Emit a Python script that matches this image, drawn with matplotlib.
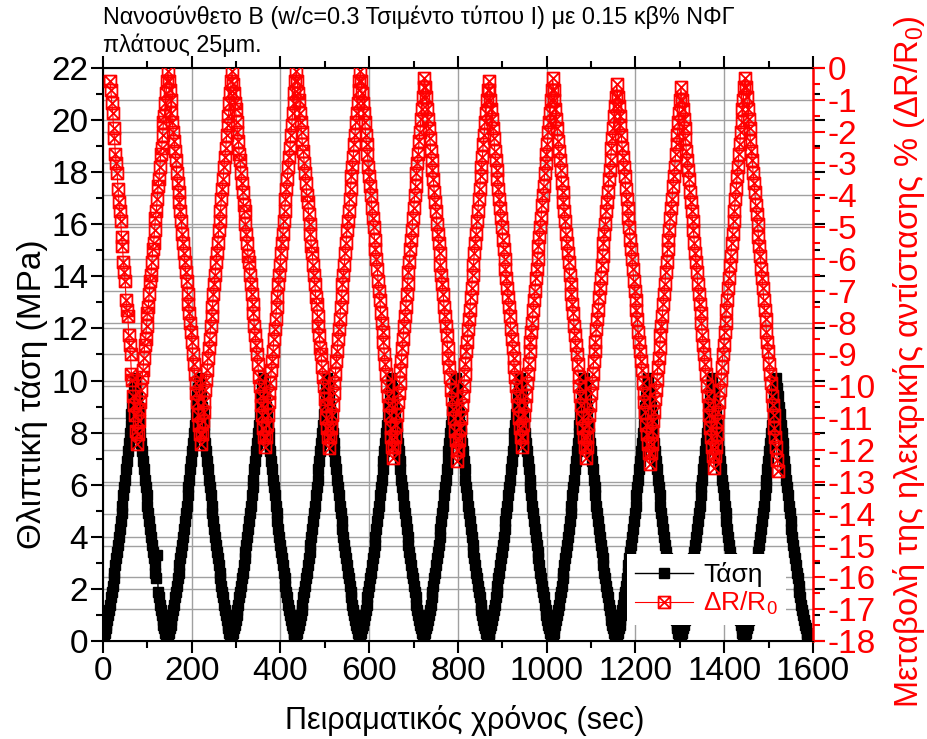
import numpy as np
import matplotlib
matplotlib.use("Agg")
import matplotlib.pyplot as plt
from matplotlib.path import Path
from matplotlib.lines import Line2D
from matplotlib.ticker import MultipleLocator
from matplotlib.transforms import blended_transform_factory

# Διάστημα δειγματοληψίας (sec), 72 δείγματα ανά κύκλο φόρτισης
dt = 2.007

# Τάση (MPa) ανά κύκλο, όπως διαβάζεται από το γράφημα
stress_cycles = [
    [0.0, 0.2, 0.3, 0.5, 0.6, 0.8, 1.0, 1.2, 1.4, 1.7, 1.9, 2.1, 2.4, 2.6, 2.9, 3.2, 3.4, 3.7, 4.0, 4.3, 4.6, 4.9, 5.2, 5.6, 5.9, 6.2, 6.6, 6.9, 7.3, 7.6, 8.0, 8.3, 8.7, 9.0, 9.4, 9.7, 10.1,
     9.7, 9.4, 9.0, 8.7, 8.3, 8.0, 7.6, 7.3, 6.9, 6.6, 6.2, 5.9, 5.6, 5.2, 4.9, 4.6, 4.3, 4.0, 3.7, 3.4, 3.2, 2.9, 2.6, 2.4, 3.3, 1.9, 1.7, 1.4, 1.2, 1.0, 0.8, 0.6, 0.5, 0.3, 0.2],
    [0.0, 0.2, 0.3, 0.5, 0.6, 0.8, 1.0, 1.2, 1.4, 1.7, 1.9, 2.1, 2.4, 2.6, 2.9, 3.2, 3.4, 3.7, 4.0, 4.3, 4.6, 4.9, 5.2, 5.6, 5.9, 6.2, 6.6, 6.9, 7.3, 7.6, 8.0, 8.3, 8.7, 9.0, 9.4, 9.7, 10.1,
     9.7, 9.4, 9.0, 8.7, 8.3, 8.0, 7.6, 7.3, 6.9, 6.6, 6.2, 5.9, 5.6, 5.2, 4.9, 4.6, 4.3, 4.0, 3.7, 3.4, 3.2, 2.9, 2.6, 2.4, 2.1, 1.9, 1.7, 1.4, 1.2, 1.0, 0.8, 0.6, 0.5, 0.3, 0.2],
    [0.0, 0.2, 0.3, 0.5, 0.6, 0.8, 1.0, 1.2, 1.4, 1.7, 1.9, 2.1, 2.4, 2.6, 2.9, 3.2, 3.4, 3.7, 4.0, 4.3, 4.6, 4.9, 5.2, 5.6, 5.9, 6.2, 6.6, 6.9, 7.3, 7.6, 8.0, 8.3, 8.7, 9.0, 9.4, 9.7, 10.1,
     9.7, 9.4, 9.0, 8.7, 8.3, 8.0, 7.6, 7.3, 6.9, 6.6, 6.2, 5.9, 5.6, 5.2, 4.9, 4.6, 4.3, 4.0, 3.7, 3.4, 3.2, 2.9, 2.6, 2.4, 2.1, 1.9, 1.7, 1.4, 1.2, 1.0, 0.8, 0.6, 0.5, 0.3, 0.2],
    [0.0, 0.2, 0.3, 0.5, 0.6, 0.8, 1.0, 1.2, 1.4, 1.7, 1.9, 2.1, 2.4, 2.6, 2.9, 3.2, 3.4, 3.7, 4.0, 4.3, 4.6, 4.9, 5.2, 5.6, 5.9, 6.2, 6.6, 6.9, 7.3, 7.6, 8.0, 8.3, 8.7, 9.0, 9.4, 9.7, 10.1,
     9.7, 9.4, 9.0, 8.7, 8.3, 8.0, 7.6, 7.3, 6.9, 6.6, 6.2, 5.9, 5.6, 5.2, 4.9, 4.6, 4.3, 4.0, 3.7, 3.4, 3.2, 2.9, 2.6, 2.4, 2.1, 1.9, 1.7, 1.4, 1.2, 1.0, 0.8, 0.6, 0.5, 0.3, 0.2],
    [0.0, 0.2, 0.3, 0.5, 0.6, 0.8, 1.0, 1.2, 1.4, 1.7, 1.9, 2.1, 2.4, 2.6, 2.9, 3.2, 3.4, 3.7, 4.0, 4.3, 4.6, 4.9, 5.2, 5.6, 5.9, 6.2, 6.6, 6.9, 7.3, 7.6, 8.0, 8.3, 8.7, 9.0, 9.4, 9.7, 10.1,
     9.7, 9.4, 9.0, 8.7, 8.3, 8.0, 7.6, 7.3, 6.9, 6.6, 6.2, 5.9, 5.6, 5.2, 4.9, 4.6, 4.3, 4.0, 3.7, 3.4, 3.2, 2.9, 2.6, 2.4, 2.1, 1.9, 1.7, 1.4, 1.2, 1.0, 0.8, 0.6, 0.5, 0.3, 0.2],
    [0.0, 0.2, 0.3, 0.5, 0.6, 0.8, 1.0, 1.2, 1.4, 1.7, 1.9, 2.1, 2.4, 2.6, 2.9, 3.2, 3.4, 3.7, 4.0, 4.3, 4.6, 4.9, 5.2, 5.6, 5.9, 6.2, 6.6, 6.9, 7.3, 7.6, 8.0, 8.3, 8.7, 9.0, 9.4, 9.7, 10.1,
     9.7, 9.4, 9.0, 8.7, 8.3, 8.0, 7.6, 7.3, 6.9, 6.6, 6.2, 5.9, 5.6, 5.2, 4.9, 4.6, 4.3, 4.0, 3.7, 3.4, 3.2, 2.9, 2.6, 2.4, 2.1, 1.9, 1.7, 1.4, 1.2, 1.0, 0.8, 0.6, 0.5, 0.3, 0.2],
    [0.0, 0.2, 0.3, 0.5, 0.6, 0.8, 1.0, 1.2, 1.4, 1.7, 1.9, 2.1, 2.4, 2.6, 2.9, 3.2, 3.4, 3.7, 4.0, 4.3, 4.6, 4.9, 5.2, 5.6, 5.9, 6.2, 6.6, 6.9, 7.3, 7.6, 8.0, 8.3, 8.7, 9.0, 9.4, 9.7, 10.1,
     9.7, 9.4, 9.0, 8.7, 8.3, 8.0, 7.6, 7.3, 6.9, 6.6, 6.2, 5.9, 5.6, 5.2, 4.9, 4.6, 4.3, 4.0, 3.7, 3.4, 3.2, 2.9, 2.6, 2.4, 2.1, 1.9, 1.7, 1.4, 1.2, 1.0, 0.8, 0.6, 0.5, 0.3, 0.2],
    [0.0, 0.2, 0.3, 0.5, 0.6, 0.8, 1.0, 1.2, 1.4, 1.7, 1.9, 2.1, 2.4, 2.6, 2.9, 3.2, 3.4, 3.7, 4.0, 4.3, 4.6, 4.9, 5.2, 5.6, 5.9, 6.2, 6.6, 6.9, 7.3, 7.6, 8.0, 8.3, 8.7, 9.0, 9.4, 9.7, 10.1,
     9.7, 9.4, 9.0, 8.7, 8.3, 8.0, 7.6, 7.3, 6.9, 6.6, 6.2, 5.9, 5.6, 5.2, 4.9, 4.6, 4.3, 4.0, 3.7, 3.4, 3.2, 2.9, 2.6, 2.4, 2.1, 1.9, 1.7, 1.4, 1.2, 1.0, 0.8, 0.6, 0.5, 0.3, 0.2],
    [0.0, 0.2, 0.3, 0.5, 0.6, 0.8, 1.0, 1.2, 1.4, 1.7, 1.9, 2.1, 2.4, 2.6, 2.9, 3.2, 3.4, 3.7, 4.0, 4.3, 4.6, 4.9, 5.2, 5.6, 5.9, 6.2, 6.6, 6.9, 7.3, 7.6, 8.0, 8.3, 8.7, 9.0, 9.4, 9.7, 10.1,
     9.7, 9.4, 9.0, 8.7, 8.3, 8.0, 7.6, 7.3, 6.9, 6.6, 6.2, 5.9, 5.6, 5.2, 4.9, 4.6, 4.3, 4.0, 3.7, 3.4, 3.2, 2.9, 2.6, 2.4, 2.1, 1.9, 1.7, 1.4, 1.2, 1.0, 0.8, 0.6, 0.5, 0.3, 0.2],
    [0.0, 0.2, 0.3, 0.5, 0.6, 0.8, 1.0, 1.2, 1.4, 1.7, 1.9, 2.1, 2.4, 2.6, 2.9, 3.2, 3.4, 3.7, 4.0, 4.3, 4.6, 4.9, 5.2, 5.6, 5.9, 6.2, 6.6, 6.9, 7.3, 7.6, 8.0, 8.3, 8.7, 9.0, 9.4, 9.7, 10.1,
     9.7, 9.4, 9.0, 8.7, 8.3, 8.0, 7.6, 7.3, 6.9, 6.6, 6.2, 5.9, 5.6, 5.2, 4.9, 4.6, 4.3, 4.0, 3.7, 3.4, 3.2, 2.9, 2.6, 2.4, 2.1, 1.9, 1.7, 1.4, 1.2, 1.0, 0.8, 0.6, 0.5, 0.3, 0.2],
    [0.0, 0.2, 0.3, 0.5, 0.6, 0.8, 1.0, 1.2, 1.4, 1.7, 1.9, 2.1, 2.4, 2.6, 2.9, 3.2, 3.4, 3.7, 4.0, 4.3, 4.6, 4.9, 5.2, 5.6, 5.9, 6.2, 6.6, 6.9, 7.3, 7.6, 8.0, 8.3, 8.7, 9.0, 9.4, 9.7, 10.1,
     9.7, 9.4, 9.0, 8.7, 8.3, 8.0, 7.6, 7.3, 6.9, 6.6, 6.2, 5.9, 5.6, 5.2, 4.9, 4.6, 4.3, 4.0, 3.7, 3.4, 3.2, 2.9, 2.6, 2.4, 2.1, 1.9, 1.7, 1.4, 1.2, 1.0, 0.8, 0.6, 0.5, 0.3, 0.2, 0.0],
]

# ΔR/R0 (%) ανά κύκλο· η μέτρηση ξεκινά στο 8ο δείγμα
red_start = 8
dr_cycles = [
    [-0.4, -0.7, -1.1, -1.4, -1.9, -2.2, -2.7, -3.0, -3.3, -3.8, -4.2, -4.5, -4.8, -5.3, -5.6, -6.1, -6.4, -6.7, -7.3, -7.6, -7.8, -8.4, -8.7, -9.0, -9.6, -9.8, -10.3, -10.6, -10.9, -11.4, -11.8,
     -11.5, -11.1, -10.7, -10.5, -10.1, -9.7, -9.5, -9.1, -8.7, -8.5, -8.1, -7.7, -7.5, -7.1, -6.7, -6.5, -6.1, -5.7, -5.5, -5.1, -4.7, -4.5, -4.1, -3.7, -3.5, -3.1, -2.7, -2.5, -2.1, -1.7, -1.5, -1.1, -0.8, -0.4],
    [-0.1, -0.4, -0.7, -1.0, -1.4, -1.7, -2.0, -2.3, -2.6, -2.9, -3.3, -3.6, -3.9, -4.2, -4.5, -4.8, -5.2, -5.5, -5.8, -6.1, -6.4, -6.7, -7.1, -7.4, -7.7, -8.0, -8.3, -8.6, -9.0, -9.3, -9.6, -9.9, -10.2, -10.5, -10.9, -11.2, -11.5, -11.8,
     -11.5, -11.1, -10.8, -10.5, -10.1, -9.8, -9.5, -9.1, -8.8, -8.5, -8.1, -7.8, -7.5, -7.1, -6.8, -6.5, -6.1, -5.8, -5.5, -5.1, -4.8, -4.5, -4.1, -3.8, -3.5, -3.1, -2.8, -2.5, -2.1, -1.8, -1.5, -1.1, -0.8, -0.4],
    [-0.1, -0.5, -0.8, -1.1, -1.3, -1.7, -2.0, -2.3, -2.7, -2.9, -3.3, -3.6, -3.9, -4.3, -4.5, -4.9, -5.2, -5.5, -5.9, -6.1, -6.5, -6.8, -7.1, -7.4, -7.7, -8.1, -8.4, -8.7, -9.0, -9.3, -9.7, -10.0, -10.3, -10.6, -10.9, -11.3, -11.6, -11.9,
     -11.6, -11.2, -10.9, -10.5, -10.2, -9.9, -9.5, -9.2, -8.9, -8.5, -8.2, -7.9, -7.5, -7.2, -6.8, -6.5, -6.2, -5.8, -5.5, -5.2, -4.8, -4.5, -4.1, -3.8, -3.5, -3.1, -2.8, -2.5, -2.1, -1.8, -1.4, -1.1, -0.8, -0.4],
    [-0.1, -0.4, -0.8, -1.0, -1.4, -1.7, -2.0, -2.4, -2.6, -3.0, -3.3, -3.6, -4.0, -4.2, -4.6, -4.9, -5.2, -5.6, -5.8, -6.2, -6.5, -6.8, -7.2, -7.4, -7.8, -8.1, -8.4, -8.8, -9.0, -9.4, -9.7, -10.0, -10.4, -10.6, -11.0, -11.3, -11.6, -11.95,
     -11.6, -11.3, -10.9, -10.6, -10.2, -9.9, -9.6, -9.2, -8.9, -8.5, -8.2, -7.9, -7.5, -7.2, -6.8, -6.5, -6.2, -5.8, -5.5, -5.1, -4.8, -4.5, -4.1, -3.8, -3.4, -3.1, -2.8, -2.4, -2.1, -1.7, -1.4, -1.1, -0.7, -0.4],
    [-0.1, -0.4, -0.8, -1.1, -1.4, -1.7, -2.1, -2.4, -2.7, -3.1, -3.4, -3.7, -4.0, -4.4, -4.7, -5.0, -5.4, -5.7, -6.0, -6.3, -6.7, -7.0, -7.3, -7.7, -8.0, -8.3, -8.6, -9.0, -9.3, -9.6, -10.0, -10.3, -10.6, -10.9, -11.3, -11.6, -11.9, -12.25,
     -11.9, -11.6, -11.2, -10.9, -10.5, -10.2, -9.9, -9.5, -9.2, -8.8, -8.5, -8.1, -7.8, -7.5, -7.1, -6.8, -6.4, -6.1, -5.7, -5.4, -5.1, -4.7, -4.4, -4.0, -3.7, -3.3, -3.0, -2.7, -2.3, -2.0, -1.6, -1.3, -0.9, -0.6],
    [-0.3, -0.6, -0.9, -1.3, -1.6, -1.9, -2.2, -2.6, -2.9, -3.2, -3.5, -3.9, -4.2, -4.5, -4.9, -5.2, -5.5, -5.8, -6.2, -6.5, -6.8, -7.1, -7.5, -7.8, -8.1, -8.4, -8.8, -9.1, -9.4, -9.7, -10.1, -10.4, -10.7, -11.0, -11.4, -11.7, -12.0, -12.35,
     -12.0, -11.7, -11.3, -11.0, -10.6, -10.3, -10.0, -9.6, -9.3, -8.9, -8.6, -8.2, -7.9, -7.6, -7.2, -6.9, -6.5, -6.2, -5.8, -5.5, -5.2, -4.8, -4.5, -4.1, -3.8, -3.4, -3.1, -2.8, -2.4, -2.1, -1.7, -1.4, -1.0, -0.7],
    [-0.4, -0.7, -1.0, -1.3, -1.6, -1.9, -2.2, -2.6, -2.9, -3.2, -3.5, -3.8, -4.1, -4.4, -4.7, -5.0, -5.4, -5.7, -6.0, -6.3, -6.6, -6.9, -7.2, -7.5, -7.8, -8.2, -8.5, -8.8, -9.1, -9.4, -9.7, -10.0, -10.3, -10.6, -11.0, -11.3, -11.6, -11.9,
     -11.6, -11.2, -10.9, -10.6, -10.3, -9.9, -9.6, -9.3, -8.9, -8.6, -8.3, -8.0, -7.6, -7.3, -7.0, -6.6, -6.3, -6.0, -5.6, -5.3, -5.0, -4.7, -4.3, -4.0, -3.7, -3.3, -3.0, -2.7, -2.4, -2.0, -1.7, -1.4, -1.0, -0.7],
    [-0.3, -0.7, -1.0, -1.3, -1.6, -1.9, -2.3, -2.6, -2.9, -3.2, -3.6, -3.9, -4.2, -4.5, -4.8, -5.2, -5.5, -5.8, -6.1, -6.5, -6.8, -7.1, -7.4, -7.7, -8.1, -8.4, -8.7, -9.0, -9.3, -9.7, -10.0, -10.3, -10.6, -11.0, -11.3, -11.6, -11.9, -12.25,
     -11.9, -11.6, -11.2, -10.9, -10.6, -10.2, -9.9, -9.6, -9.2, -8.9, -8.6, -8.2, -7.9, -7.6, -7.2, -6.9, -6.6, -6.2, -5.9, -5.5, -5.2, -4.9, -4.5, -4.2, -3.9, -3.5, -3.2, -2.9, -2.5, -2.2, -1.9, -1.5, -1.2, -0.9],
    [-0.5, -0.9, -1.2, -1.5, -1.8, -2.1, -2.5, -2.8, -3.1, -3.4, -3.8, -4.1, -4.4, -4.7, -5.0, -5.4, -5.7, -6.0, -6.3, -6.7, -7.0, -7.3, -7.6, -7.9, -8.3, -8.6, -8.9, -9.2, -9.5, -9.9, -10.2, -10.5, -10.8, -11.2, -11.5, -11.8, -12.1, -12.45,
     -12.1, -11.8, -11.4, -11.1, -10.8, -10.4, -10.1, -9.8, -9.4, -9.1, -8.8, -8.4, -8.1, -7.8, -7.4, -7.1, -6.8, -6.4, -6.1, -5.7, -5.4, -5.1, -4.7, -4.4, -4.1, -3.7, -3.4, -3.1, -2.7, -2.4, -2.1, -1.7, -1.4, -1.0],
    [-0.6, -1.0, -1.3, -1.6, -1.9, -2.2, -2.6, -2.9, -3.2, -3.5, -3.9, -4.2, -4.5, -4.8, -5.1, -5.5, -5.8, -6.1, -6.4, -6.8, -7.1, -7.4, -7.7, -8.0, -8.4, -8.7, -9.0, -9.3, -9.6, -10.0, -10.3, -10.6, -10.9, -11.3, -11.6, -11.9, -12.2, -12.55,
     -12.2, -11.9, -11.5, -11.1, -10.8, -10.5, -10.1, -9.8, -9.4, -9.0, -8.7, -8.3, -8.0, -7.6, -7.3, -6.9, -6.6, -6.2, -5.9, -5.5, -5.2, -4.8, -4.5, -4.1, -3.8, -3.4, -3.1, -2.7, -2.4, -2.0, -1.7, -1.3, -1.0, -0.6],
    [-0.3, -0.6, -0.9, -1.3, -1.6, -1.9, -2.3, -2.6, -2.9, -3.3, -3.6, -3.9, -4.3, -4.6, -4.9, -5.3, -5.6, -5.9, -6.3, -6.6, -6.9, -7.3, -7.6, -7.9, -8.3, -8.6, -8.9, -9.3, -9.6, -9.9, -10.3, -10.6, -10.9, -11.3, -11.6, -11.9, -12.3, -12.65],
]

title = "Νανοσύνθετο Β (w/c=0.3 Τσιμέντο τύπου Ι) με 0.15 κβ% ΝΦΓ\nπλάτους 25μm."
xlabel = "Πειραματικός χρόνος (sec)"
ylabel_left = "Θλιπτική τάση (MPa)"
ylabel_right = "Μεταβολή της ηλεκτρικής αντίστασης % (ΔR/R$_0$)"
legend_labels = ["Τάση", "ΔR/R$_0$"]

plt.rcParams['font.family'] = ['Liberation Sans', 'DejaVu Sans']
plt.rcParams['mathtext.fontset'] = 'custom'
plt.rcParams['mathtext.rm'] = 'Liberation Sans'
plt.rcParams['mathtext.it'] = 'Liberation Sans:italic'
plt.rcParams['axes.unicode_minus'] = False

stress = np.concatenate([np.array(c, dtype=float) for c in stress_cycles])
t = np.arange(len(stress)) * dt
dr = np.concatenate([np.array(c, dtype=float) for c in dr_cycles])
t_dr = t[red_start:red_start + len(dr)]

# σύμβολο: τετράγωνο με Χ
box_x = Path([(-1, -1), (1, -1), (1, 1), (-1, 1), (-1, -1), (-1, -1), (1, 1), (-1, 1), (1, -1)],
             [Path.MOVETO, Path.LINETO, Path.LINETO, Path.LINETO, Path.CLOSEPOLY,
              Path.MOVETO, Path.LINETO, Path.MOVETO, Path.LINETO])

fig = plt.figure(figsize=(9.27, 7.39), dpi=100)
ax = fig.add_axes([0.111, 0.1326, 0.766, 0.7754])
ax2 = ax.twinx()

grid_c = '#a0a0a0'
l1, = ax.plot(t, stress, color='black', lw=1, marker='s', ms=7.8, mec='black', mfc='black', zorder=3)
l2, = ax2.plot(t_dr, dr, color='red', lw=0.8, marker=box_x, ms=8.5, mfc='none', mec='red', mew=1.3, zorder=3)

ax.set_xlim(0, 1600)
ax.set_ylim(0, 22)
ax2.set_ylim(-18, 0)

ax.xaxis.set_major_locator(MultipleLocator(200))
ax.xaxis.set_minor_locator(MultipleLocator(100))
ax.yaxis.set_major_locator(MultipleLocator(2))
ax.yaxis.set_minor_locator(MultipleLocator(1))
ax2.yaxis.set_major_locator(MultipleLocator(1))
ax2.yaxis.set_minor_locator(MultipleLocator(0.5))

# πλέγμα κάτω από τα δεδομένα
for v in np.arange(200, 1600, 200):
    ax.axvline(v, color=grid_c, lw=1, zorder=0)
for v in np.arange(2, 22, 2):
    ax.axhline(v, color=grid_c, lw=1, zorder=0)
tr = blended_transform_factory(ax.transAxes, ax2.transData)
for v in np.arange(-17, 0, 1):
    ax.add_artist(Line2D([0, 1], [v, v], transform=tr, color=grid_c, lw=1, zorder=0))

ax.tick_params(which='both', direction='out', top=True, right=True, labeltop=False,
               labelright=False, width=1.5, labelsize=24, pad=2)
ax.tick_params(which='major', length=8.6)
ax.tick_params(which='minor', length=5)
ax2.tick_params(axis='y', which='both', colors='red', direction='out', width=1.5, labelsize=24, pad=2)
ax2.tick_params(axis='y', which='major', length=8.6)
ax2.tick_params(axis='y', which='minor', length=5)

for s in ['left', 'bottom', 'top']:
    ax.spines[s].set_linewidth(1.5)
ax2.spines['right'].set_color('red')
ax2.spines['right'].set_linewidth(1.8)

ax.set_xlabel(xlabel, fontsize=22)
ax.xaxis.set_label_coords(0.51, -0.112)
ax.set_ylabel(ylabel_left, fontsize=24)
ax.yaxis.set_label_coords(-0.078, 0.431)
ax2.set_ylabel(ylabel_right, fontsize=23.5, color='red')
ax2.yaxis.set_label_coords(1.110, 0.487)

fig.text(0.111, 0.993, title, ha='left', va='top', fontsize=16.8, linespacing=1.25)

leg = ax.legend([l1, l2], legend_labels, loc='lower left', bbox_to_anchor=(0.738, 0.028),
                borderaxespad=0, fontsize=19, numpoints=1, handlelength=2.2, frameon=True,
                fancybox=False, framealpha=1, facecolor='white', edgecolor='none',
                labelcolor='linecolor', borderpad=0.3, labelspacing=0.1, handletextpad=0.4)
leg.set_zorder(5)

fig.savefig('out.png', dpi=100)
